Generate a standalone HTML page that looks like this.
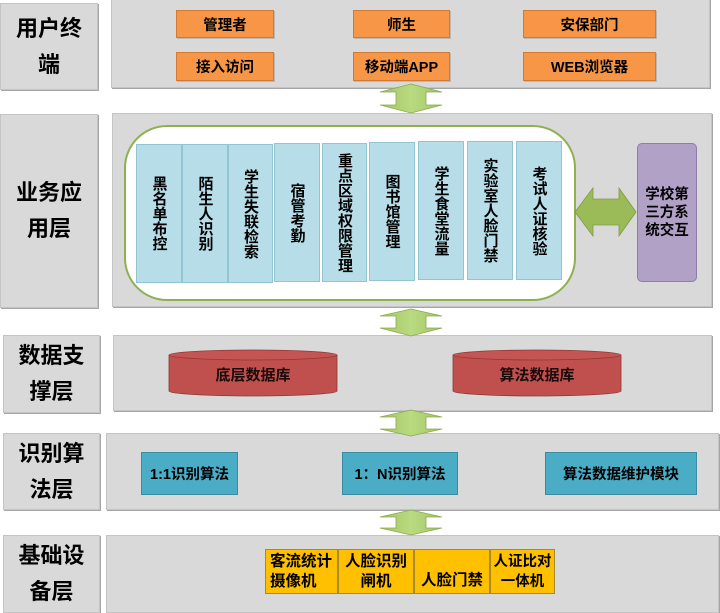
<!DOCTYPE html>
<html>
<head>
<meta charset="utf-8">
<style>
  html,body{margin:0;padding:0;background:#fff;}
  body{width:720px;height:612px;position:relative;overflow:hidden;
    font-family:"Liberation Sans","Noto Sans CJK SC",sans-serif;font-weight:bold;color:#000;}
  .p{position:absolute;background:#d9d9d9;border:1px solid #c4c4c4;box-sizing:border-box;
    box-shadow:1px 1px 0 #a6a6a6;}
  .lab{display:flex;flex-direction:column;align-items:center;justify-content:center;
    font-size:22px;line-height:36px;text-align:center;}
  .b{position:absolute;box-sizing:border-box;display:flex;align-items:center;justify-content:center;text-align:center;white-space:nowrap;}
  .or{background:#f79646;border:1px solid #d07a36;font-size:14.5px;box-shadow:1px 1px 0 #b9b9b9;}
  .vb{background:#b7dee8;border:1px solid #93c4d2;font-size:15px;}
  .vb span{writing-mode:vertical-rl;text-orientation:upright;line-height:1;}
  .al{background:#4bacc6;border:1px solid #3b8ca3;font-size:14.5px;}
  .ye{background:#ffc000;border:1px solid #a88a2a;font-size:15.5px;line-height:20px;font-weight:bold;}
  svg{position:absolute;left:0;top:0;}
</style>
</head>
<body>
<!-- Row 1 -->
<div class="p lab" style="left:0;top:3px;width:98px;height:87px;"><div>用户终</div><div>端</div></div>
<div class="p" style="left:111px;top:-1px;width:599px;height:89px;"></div>
<!-- Row 2 -->
<div class="p lab" style="left:0;top:114px;width:98px;height:194px;"><div>业务应</div><div>用层</div></div>
<div class="p" style="left:112px;top:113px;width:600px;height:194px;"></div>
<!-- Row 3 -->
<div class="p lab" style="left:3px;top:335px;width:97px;height:78px;"><div>数据支</div><div>撑层</div></div>
<div class="p" style="left:113px;top:335px;width:599px;height:76px;"></div>
<!-- Row 4 -->
<div class="p lab" style="left:3px;top:433px;width:97px;height:77px;"><div>识别算</div><div>法层</div></div>
<div class="p" style="left:106px;top:433px;width:613px;height:77px;"></div>
<!-- Row 5 -->
<div class="p lab" style="left:3px;top:535px;width:97px;height:78px;"><div>基础设</div><div>备层</div></div>
<div class="p" style="left:106px;top:535px;width:613px;height:78px;"></div>

<svg width="720" height="612" viewBox="0 0 720 612">
  <defs>
    <linearGradient id="gv" x1="0" y1="0" x2="1" y2="0">
      <stop offset="0" stop-color="#a3c565"/>
      <stop offset="0.5" stop-color="#b9da80"/>
      <stop offset="1" stop-color="#a3c565"/>
    </linearGradient>
  </defs>
  <!-- rounded container -->
  <rect x="125" y="126" width="450" height="174" rx="42" ry="42" fill="#ffffff" stroke="#8fb050" stroke-width="2"/>
  <!-- vertical double arrows -->
  <g fill="url(#gv)" stroke="#8aa94f" stroke-width="0.8">
    <polygon points="411,84 442,92 426,92 426,105 442,105 411,113 380,105 396,105 396,92 380,92"/>
    <polygon points="411,309 442,316 426,316 426,328 442,328 411,336 380,328 396,328 396,316 380,316"/>
    <polygon points="411,410 442,417 426,417 426,429 442,429 411,436 380,429 396,429 396,417 380,417"/>
    <polygon points="411,510 442,517 426,517 426,528 442,528 411,535 380,528 396,528 396,517 380,517"/>
  </g>
  <!-- horizontal double arrow -->
  <polygon points="575,212 593,188 593,199 619,199 619,188 636,212 619,236 619,225 593,225 593,236" fill="#9bbb59" stroke="#7f9b45" stroke-width="0.8"/>
  <!-- cylinders -->
  <g stroke="#8c3836" stroke-width="0.8">
    <path d="M169,355 L169,391 A84,5 0 0 0 337,391 L337,355" fill="#c0504d"/>
    <ellipse cx="253" cy="355" rx="84" ry="5" fill="#c55552"/>
    <path d="M453,355 L453,391 A84,5 0 0 0 621,391 L621,355" fill="#c0504d"/>
    <ellipse cx="537" cy="355" rx="84" ry="5" fill="#c55552"/>
  </g>
</svg>

<!-- Row1 orange boxes -->
<div class="b or" style="left:176px;top:10px;width:98px;height:28px;">管理者</div>
<div class="b or" style="left:353px;top:10px;width:97px;height:28px;">师生</div>
<div class="b or" style="left:523px;top:10px;width:133px;height:28px;">安保部门</div>
<div class="b or" style="left:176px;top:52px;width:98px;height:29px;">接入访问</div>
<div class="b or" style="left:353px;top:52px;width:97px;height:29px;">移动端APP</div>
<div class="b or" style="left:523px;top:52px;width:133px;height:29px;">WEB浏览器</div>

<!-- Row2 vertical boxes -->
<div class="b vb" style="left:136px;top:144px;width:46px;height:139px;"><span>黑名单布控</span></div>
<div class="b vb" style="left:182px;top:144px;width:46px;height:139px;"><span>陌生人识别</span></div>
<div class="b vb" style="left:228px;top:144px;width:45px;height:139px;"><span>学生失联检索</span></div>
<div class="b vb" style="left:274px;top:143px;width:46px;height:139px;"><span>宿管考勤</span></div>
<div class="b vb" style="left:322px;top:143px;width:45px;height:139px;"><span>重点区域权限管理</span></div>
<div class="b vb" style="left:369px;top:142px;width:46px;height:139px;"><span>图书馆管理</span></div>
<div class="b vb" style="left:418px;top:141px;width:46px;height:139px;"><span>学生食堂流量</span></div>
<div class="b vb" style="left:467px;top:141px;width:46px;height:139px;"><span>实验室人脸门禁</span></div>
<div class="b vb" style="left:516px;top:141px;width:46px;height:139px;"><span>考试人证核验</span></div>

<!-- purple -->
<div class="b" style="left:637px;top:143px;width:60px;height:139px;background:#b2a1c7;border:1px solid #8e7caa;border-radius:5px;font-size:14.5px;line-height:18px;">学校第<br>三方系<br>统交互</div>

<!-- cylinder labels -->
<div class="b" style="left:169px;top:362px;width:168px;height:24px;font-size:15px;color:#1a0a0a;">底层数据库</div>
<div class="b" style="left:453px;top:362px;width:168px;height:24px;font-size:15px;color:#1a0a0a;">算法数据库</div>

<!-- Row4 algorithm boxes -->
<div class="b al" style="left:141px;top:452px;width:97px;height:43px;">1:1识别算法</div>
<div class="b al" style="left:342px;top:452px;width:116px;height:43px;">1：N识别算法</div>
<div class="b al" style="left:545px;top:452px;width:152px;height:43px;">算法数据维护模块</div>

<!-- Row5 yellow boxes -->
<div class="b ye" style="left:265px;top:549px;width:73px;height:45px;justify-content:flex-start;text-align:left;padding-left:4px;">客流统计<br>摄像机</div>
<div class="b ye" style="left:338px;top:549px;width:76px;height:45px;">人脸识别<br>闸机</div>
<div class="b ye" style="left:414px;top:549px;width:76px;height:45px;align-items:flex-end;padding-bottom:2px;">人脸门禁</div>
<div class="b ye" style="left:490px;top:549px;width:65px;height:45px;font-size:14.5px;">人证比对<br>一体机</div>
</body>
</html>
